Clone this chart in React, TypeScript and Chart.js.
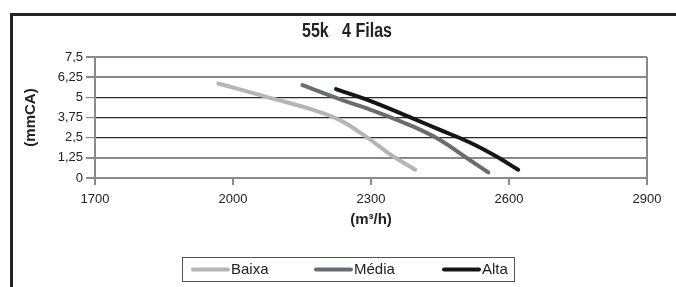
import React, { useEffect, useRef } from 'react';
import { Chart, registerables } from 'chart.js';

Chart.register(...registerables);

const chartTitle = '55k   4 Filas';
const xAxisTitle = '(m³/h)';
const yAxisTitle = '(mmCA)';

const seriesNames = ['Baixa', 'Média', 'Alta'];
const seriesColors = ['#b5b5b5', '#6a6d70', '#151515'];

const baixaX = [1968, 2073, 2167, 2230, 2290, 2345, 2396];
const baixaY = [5.86, 5.03, 4.28, 3.62, 2.55, 1.4, 0.51];

const mediaX = [2151, 2233, 2310, 2392, 2450, 2501, 2555];
const mediaY = [5.76, 4.88, 4.12, 3.18, 2.36, 1.38, 0.35];

const altaX = [2224, 2298, 2392, 2450, 2515, 2573, 2620];
const altaY = [5.51, 4.78, 3.68, 2.98, 2.2, 1.33, 0.51];

const xTicks = [1700, 2000, 2300, 2600, 2900];
const xTickLabels = ['1700', '2000', '2300', '2600', '2900'];
const yTicks = [0, 1.25, 2.5, 3.75, 5, 6.25, 7.5];
const yTickLabels = ['0', '1,25', '2,5', '3,75', '5', '6,25', '7,5'];
const darkGridValues = [2.5, 3.75, 5];

const FONT = '"Liberation Sans", Arial, sans-serif';

const toPoints = (xs: number[], ys: number[]) => xs.map((x, i) => ({ x, y: ys[i] }));

const framePlugin = {
  id: 'frame',
  beforeDraw(chart: any) {
    const ctx = chart.ctx;
    ctx.save();
    ctx.fillStyle = '#ffffff';
    ctx.fillRect(0, 0, chart.width, chart.height);
    ctx.strokeStyle = '#222222';
    ctx.lineWidth = 3;
    ctx.beginPath();
    ctx.moveTo(11.5, chart.height);
    ctx.lineTo(11.5, 14.5);
    ctx.lineTo(chart.width, 14.5);
    ctx.stroke();
    ctx.restore();
  },
};

const titlePlugin = {
  id: 'narrowTitle',
  afterDraw(chart: any) {
    const ctx = chart.ctx;
    ctx.save();
    ctx.font = `bold 20px ${FONT}`;
    const w = ctx.measureText(chartTitle).width;
    const sx = 90 / w;
    ctx.translate(347, 31);
    ctx.scale(sx, 1);
    ctx.fillStyle = '#222222';
    ctx.textAlign = 'center';
    ctx.textBaseline = 'middle';
    ctx.fillText(chartTitle, 0, 0);
    ctx.restore();
  },
};

const legendPlugin = {
  id: 'boxLegend',
  afterDraw(chart: any) {
    const ctx = chart.ctx;
    const box = { left: 182.5, top: 257.5, right: 514.5, bottom: 281.5 };
    const starts = [191, 314, 442];
    const lineLen = 39;
    ctx.save();
    ctx.strokeStyle = '#555555';
    ctx.lineWidth = 1;
    ctx.strokeRect(box.left, box.top, box.right - box.left, box.bottom - box.top);
    const cy = (box.top + box.bottom) / 2;
    chart.data.datasets.forEach((ds: any, i: number) => {
      ctx.strokeStyle = ds.borderColor;
      ctx.lineWidth = 4;
      ctx.lineCap = 'round';
      ctx.beginPath();
      ctx.moveTo(starts[i] + 2, cy);
      ctx.lineTo(starts[i] + lineLen - 2, cy);
      ctx.stroke();
      ctx.fillStyle = '#222222';
      ctx.font = `15px ${FONT}`;
      ctx.textBaseline = 'middle';
      ctx.textAlign = 'left';
      ctx.fillText(ds.label, starts[i] + lineLen + 1, cy + 0.5);
    });
    ctx.restore();
  },
};

export default function App() {
  const canvasRef = useRef<HTMLCanvasElement | null>(null);

  useEffect(() => {
    if (!canvasRef.current) return;
    const xs = [baixaX, mediaX, altaX];
    const ys = [baixaY, mediaY, altaY];
    const chart = new Chart(canvasRef.current, {
      type: 'scatter',
      data: {
        datasets: seriesNames.map((name, i) => ({
          label: name,
          data: toPoints(xs[i], ys[i]),
          showLine: true,
          borderColor: seriesColors[i],
          backgroundColor: seriesColors[i],
          borderWidth: 4,
          borderCapStyle: 'round',
          borderJoinStyle: 'round',
          pointRadius: 0,
          pointHoverRadius: 0,
          tension: 0.4,
        })),
      },
      options: {
        responsive: false,
        animation: false,
        events: [],
        layout: { padding: { left: 18, right: 29, top: 57, bottom: 54 } },
        plugins: {
          legend: { display: false },
          tooltip: { enabled: false },
          title: { display: false },
        },
        scales: {
          x: {
            type: 'linear',
            min: xTicks[0],
            max: xTicks[xTicks.length - 1],
            afterBuildTicks: (scale: any) => {
              scale.ticks = xTicks.map((v) => ({ value: v }));
            },
            afterFit: (scale: any) => {
              scale.height = 55;
            },
            ticks: {
              color: '#222222',
              font: { family: FONT, size: 13 },
              padding: 7,
              maxRotation: 0,
              callback: (v: any) => xTickLabels[xTicks.indexOf(Number(v))] ?? String(v),
            },
            grid: {
              drawOnChartArea: true,
              color: (c: any) => (c.tick && c.tick.value === xTicks[xTicks.length - 1] ? '#8a8a8a' : 'rgba(0,0,0,0)'),
              tickColor: '#8a8a8a',
              tickLength: 7,
              lineWidth: 2,
            },
            border: { color: '#8a8a8a', width: 2 },
            title: {
              display: true,
              text: xAxisTitle,
              color: '#222222',
              font: { family: FONT, size: 15, weight: 'bold' },
              padding: { top: 4, bottom: 4 },
            },
          },
          y: {
            type: 'linear',
            min: yTicks[0],
            max: yTicks[yTicks.length - 1],
            afterBuildTicks: (scale: any) => {
              scale.ticks = yTicks.map((v) => ({ value: v }));
            },
            afterFit: (scale: any) => {
              scale.width = 77;
            },
            ticks: {
              color: '#222222',
              font: { family: FONT, size: 13 },
              padding: 3,
              callback: (v: any) => yTickLabels[yTicks.indexOf(Number(v))] ?? String(v),
            },
            grid: {
              color: (c: any) => (c.tick && darkGridValues.includes(c.tick.value) ? '#2a2a2a' : '#8a8a8a'),
              tickColor: '#8a8a8a',
              tickLength: 9,
              lineWidth: (c: any) => (c.tick && darkGridValues.includes(c.tick.value) ? 1.2 : 2),
            },
            border: { color: '#8a8a8a', width: 2 },
            title: {
              display: true,
              text: yAxisTitle,
              color: '#222222',
              font: { family: FONT, size: 15, weight: 'bold' },
              padding: { top: 4, bottom: 4 },
            },
          },
        },
      },
      plugins: [framePlugin, titlePlugin, legendPlugin],
    } as any);
    return () => chart.destroy();
  }, []);

  return (
    <div style={{ position: 'fixed', left: 0, top: 0, width: 676, height: 287, background: '#fff' }}>
      <canvas ref={canvasRef} width={676} height={287} style={{ display: 'block', width: 676, height: 287 }} />
    </div>
  );
}
